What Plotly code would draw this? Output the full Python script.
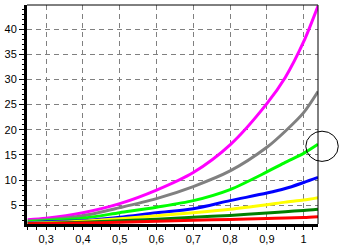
import plotly.graph_objects as go

xs = [0.25, 0.3, 0.4, 0.5, 0.6, 0.7, 0.8, 0.9, 0.95, 1.0, 1.039]
magenta = [2.1, 2.4, 3.5, 5.3, 8.0, 11.5, 17.0, 25.2, 30.4, 37.5, 44.6]
gray = [1.9, 2.1, 2.9, 4.5, 6.3, 8.7, 11.8, 16.5, 19.7, 23.4, 27.6]
lime = [1.7, 1.9, 2.4, 3.5, 4.6, 5.9, 8.1, 11.6, 13.5, 15.3, 17.1]
blue = [1.5, 1.7, 1.9, 2.6, 3.5, 4.3, 5.9, 7.4, 8.3, 9.5, 10.5]
yellow = [1.4, 1.5, 1.8, 2.3, 2.9, 3.5, 4.2, 5.1, 5.6, 6.0, 6.5]
dkgreen = [1.35, 1.4, 1.6, 1.9, 2.2, 2.6, 2.95, 3.45, 3.7, 3.95, 4.2]
red = [1.3, 1.35, 1.45, 1.6, 1.8, 2.0, 2.15, 2.35, 2.45, 2.55, 2.7]

series = [
    (magenta, "#ff00ff"),
    (gray, "#808080"),
    (lime, "#00ff00"),
    (blue, "#0000ff"),
    (yellow, "#ffff00"),
    (dkgreen, "#008000"),
    (red, "#ff0000"),
]

# highlighted point (circled, drawn just beyond the right edge)
highlight_x = 1.05
highlight_y = 16.7

XR = [0.248, 1.039]
YR = [1.25, 44.8]
W, H = 362, 250
ML, MR, MT, MB = 22, 44, 5, 25
PW, PH = W - ML - MR, H - MT - MB
R_PX = 16.5

cx = (highlight_x - XR[0]) / (XR[1] - XR[0])
cy = (highlight_y - YR[0]) / (YR[1] - YR[0])
rx = R_PX / PW
ry = R_PX * 0.92 / PH

fig = go.Figure()
for ys, col in series:
    fig.add_trace(go.Scatter(x=xs, y=ys, mode="lines",
                             line=dict(color=col, width=3, shape="spline", smoothing=0.8),
                             showlegend=False, hoverinfo="skip"))

fig.update_layout(
    width=W, height=H,
    margin=dict(l=ML, r=MR, t=MT, b=MB),
    paper_bgcolor="white", plot_bgcolor="white",
    separators=", ",
    font=dict(family="Liberation Sans, Arial, sans-serif", size=11, color="black"),
    xaxis=dict(range=XR, tick0=0, dtick=0.1,
               showgrid=True, gridcolor="#808080", griddash="5px,4px", gridwidth=1,
               showline=True, linecolor="black", linewidth=3,
               ticks="outside", ticklen=3, tickcolor="black",
               minor=dict(dtick=0.025, tick0=0, ticks="outside", ticklen=3,
                          tickcolor="black", showgrid=False),
               zeroline=False),
    yaxis=dict(range=YR, tick0=0, dtick=5,
               showgrid=True, gridcolor="#808080", griddash="5px,4px", gridwidth=1,
               showline=True, linecolor="black", linewidth=3,
               ticks="outside", ticklen=5, tickcolor="black",
               minor=dict(dtick=1, tick0=0, ticks="outside", ticklen=2,
                          tickcolor="black", showgrid=False),
               zeroline=False),
    shapes=[
        dict(type="line", xref="paper", yref="paper", x0=0, x1=1, y0=1, y1=1,
             line=dict(color="black", width=1)),
        dict(type="line", xref="paper", yref="paper", x0=1, x1=1, y0=0, y1=1,
             line=dict(color="black", width=1)),
        dict(type="circle", xref="paper", yref="paper",
             x0=cx - rx, x1=cx + rx, y0=cy - ry, y1=cy + ry,
             line=dict(color="black", width=1)),
    ],
)

fig.write_html("out.html")
